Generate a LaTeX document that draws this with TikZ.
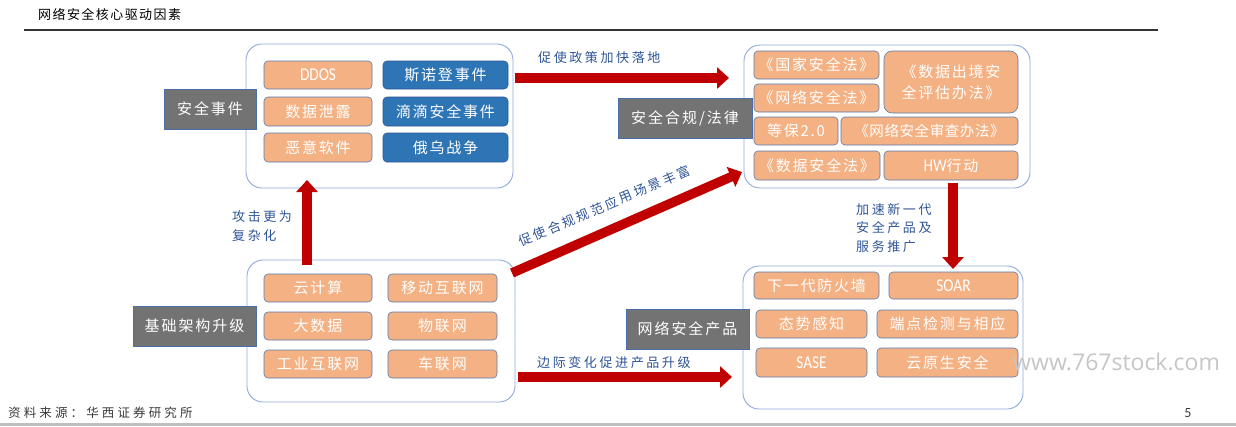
\documentclass[tikz,border=0pt]{standalone}
\usepackage{fontspec}
\setmainfont{Carlito}
\newfontfamily\cjk{Noto Sans CJK SC}
\newfontfamily\wmfont{Open Sans}
\newfontfamily\narrowlatin[FakeStretch=0.85]{Carlito}
\usetikzlibrary{arrows.meta}
\definecolor{boxorange}{HTML}{F4B183}
\definecolor{boxblue}{HTML}{2E75B6}
\definecolor{boxblueline}{HTML}{2F5597}
\definecolor{orangeline}{HTML}{5A7BAE}
\definecolor{labgray}{HTML}{737373}
\definecolor{labline}{HTML}{4A6FA8}
\definecolor{groupline}{HTML}{8FAADC}
\definecolor{arrowred}{HTML}{C00000}
\definecolor{notetext}{HTML}{2F5597}
\definecolor{footgray}{HTML}{3A3A3A}
\definecolor{wmgray}{HTML}{C6C6C6}
\definecolor{bargray}{HTML}{BFBFBF}
\newcommand\bxfont{\cjk\fontsize{15}{21}\selectfont\addfontfeature{LetterSpace=12}}
\newcommand\lbfont{\cjk\fontsize{15}{18}\selectfont\addfontfeature{LetterSpace=13}}
\newcommand\ntfont{\cjk\fontsize{13}{18.5}\selectfont\addfontfeature{LetterSpace=20}}
\newcommand\ltfont{\narrowlatin\fontsize{18}{20}\selectfont}
\tikzset{
  group/.style={draw=groupline, line width=0.9pt, rounded corners=16pt, anchor=north west, inner sep=0pt, outer sep=0pt},
  lab/.style={fill=labgray, draw=labline, line width=0.6pt, text=white, anchor=north west, inner sep=0pt, outer sep=0pt, font=\lbfont},
  obox/.style={fill=boxorange, draw=orangeline, line width=0.6pt, rounded corners=4pt, text=white, anchor=north west, inner sep=0pt, outer sep=0pt, font=\bxfont, align=center},
  bbox/.style={obox, fill=boxblue, draw=boxblueline},
  note/.style={text=notetext, font=\ntfont, align=left, inner sep=0pt},
  bigarrow/.style={draw=arrowred, line width=9.5pt, -{Triangle[length=12pt,width=21pt]}}
}
\begin{document}
\begin{tikzpicture}[x=1pt,y=-1pt]
\useasboundingbox (0,0) rectangle (1236,426);
\fill[white] (0,0) rectangle (1236,426);
% header
\node[anchor=west, inner sep=0pt, font=\cjk\fontsize{13}{15}\selectfont\addfontfeature{LetterSpace=11}] (title) at (38,14) {网络安全核心驱动因素};
\draw[line width=1.3pt, black!80] (24,30) -- (1158,30);
% ---------- top left group
\node[group, minimum width=267, minimum height=144] (tlout) at (246,44) {};
\node[lab, minimum width=92, minimum height=40] (tllab) at (164,89) {安全事件};
\node[obox, minimum width=108, minimum height=28] (ddos) at (264,61) {\ltfont DDOS};
\node[obox, minimum width=108, minimum height=29] (leak) at (264,97) {数据泄露};
\node[obox, minimum width=108, minimum height=29] (malw) at (264,133) {恶意软件};
\node[bbox, minimum width=125, minimum height=28] (snow) at (383,61) {斯诺登事件};
\node[bbox, minimum width=125, minimum height=29] (didi) at (383,97) {滴滴安全事件};
\node[bbox, minimum width=125, minimum height=29] (war) at (383,133) {俄乌战争};
% ---------- top right group
\node[group, minimum width=286, minimum height=143] (trout) at (744,45) {};
\node[lab, minimum width=134, minimum height=40] (trlab) at (618,98) {安全合规/法律};
\node[obox, minimum width=125, minimum height=28] (law1) at (754,51) {《国家安全法》};
\node[obox, minimum width=125, minimum height=28] (law2) at (754,84) {《网络安全法》};
\node[obox, minimum width=134, minimum height=62, rounded corners=8pt] (law3) at (884,51) {《数据出境安\\全评估办法》};
\node[obox, minimum width=84, minimum height=28] (law4) at (754,117) {等保2.0};
\node[obox, minimum width=177, minimum height=28, font=\cjk\fontsize{14.5}{18}\selectfont\addfontfeature{LetterSpace=4}] (law5) at (841,117) {《网络安全审查办法》};
\node[obox, minimum width=126, minimum height=29] (law6) at (754,151) {《数据安全法》};
\node[obox, minimum width=134, minimum height=29] (law7) at (884,151) {{\ltfont HW}行动};
% ---------- bottom left group
\node[group, minimum width=268, minimum height=142] (blout) at (247,260) {};
\node[lab, minimum width=123, minimum height=40] (bllab) at (133,306) {基础架构升级};
\node[obox, minimum width=108, minimum height=28] (cloud) at (264,274) {云计算};
\node[obox, minimum width=108, minimum height=28] (bigd) at (264,312) {大数据};
\node[obox, minimum width=108, minimum height=28] (iiot) at (264,350) {工业互联网};
\node[obox, minimum width=109, minimum height=28] (mob) at (388,274) {移动互联网};
\node[obox, minimum width=109, minimum height=28] (iot) at (388,312) {物联网};
\node[obox, minimum width=109, minimum height=28] (iov) at (388,350) {车联网};
% ---------- bottom right group
\node[group, minimum width=280, minimum height=143] (brout) at (743,266) {};
\node[lab, minimum width=123, minimum height=40] (brlab) at (626,309) {网络安全产品};
\node[obox, minimum width=125, minimum height=27] (ngfw) at (754,272) {下一代防火墙};
\node[obox, minimum width=129, minimum height=27] (soar) at (889,272) {\ltfont SOAR};
\node[obox, minimum width=111, minimum height=28] (sit) at (756,310) {态势感知};
\node[obox, minimum width=141, minimum height=28] (edr) at (877,310) {端点检测与相应};
\node[obox, minimum width=111, minimum height=29] (sase) at (756,348) {\ltfont SASE};
\node[obox, minimum width=141, minimum height=29] (cns) at (877,348) {云原生安全};
% ---------- arrows
\coordinate (a1s) at (515,78);  \coordinate (a1e) at (729,78);
\coordinate (a2s) at (512,273); \coordinate (a2e) at (742,172);
\coordinate (a3s) at (307,265); \coordinate (a3e) at (307,180);
\coordinate (a4s) at (953,183); \coordinate (a4e) at (953,269);
\coordinate (a5s) at (518,377); \coordinate (a5e) at (732,377);
\draw[bigarrow] (a1s) -- (a1e);
\draw[bigarrow] (a2s) -- (a2e);
\draw[bigarrow] (a3s) -- (a3e);
\draw[bigarrow] (a4s) -- (a4e);
\draw[bigarrow] (a5s) -- (a5e);
% ---------- notes
\node[note, anchor=west] (n1) at (538,58) {促使政策加快落地};
\node[note, rotate=23] (n2) at (604.5,206) {促使合规规范应用场景丰富};
\node[note, anchor=west] (n3) at (232,226) {攻击更为\\复杂化};
\node[note, anchor=west] (n4) at (856,228) {加速新一代\\安全产品及\\服务推广};
\node[note, anchor=west] (n5) at (537,363) {边际变化促进产品升级};
% ---------- footer
\node[anchor=west, inner sep=0pt, text=footgray, font=\cjk\fontsize{12.5}{15}\selectfont\addfontfeature{LetterSpace=25}] (src) at (8,413) {资料来源：华西证券研究所};
\node[inner sep=0pt, text=footgray, font=\normalfont\fontsize{14}{16}\selectfont] (pnum) at (1188,413) {5};
\fill[bargray] (0,423) rectangle (1236,426);
\node[anchor=west, inner sep=0pt, text=wmgray, font=\wmfont\fontsize{23}{26}\selectfont] (wm) at (1013,362) {www.767stock.com};
\end{tikzpicture}
\end{document}
